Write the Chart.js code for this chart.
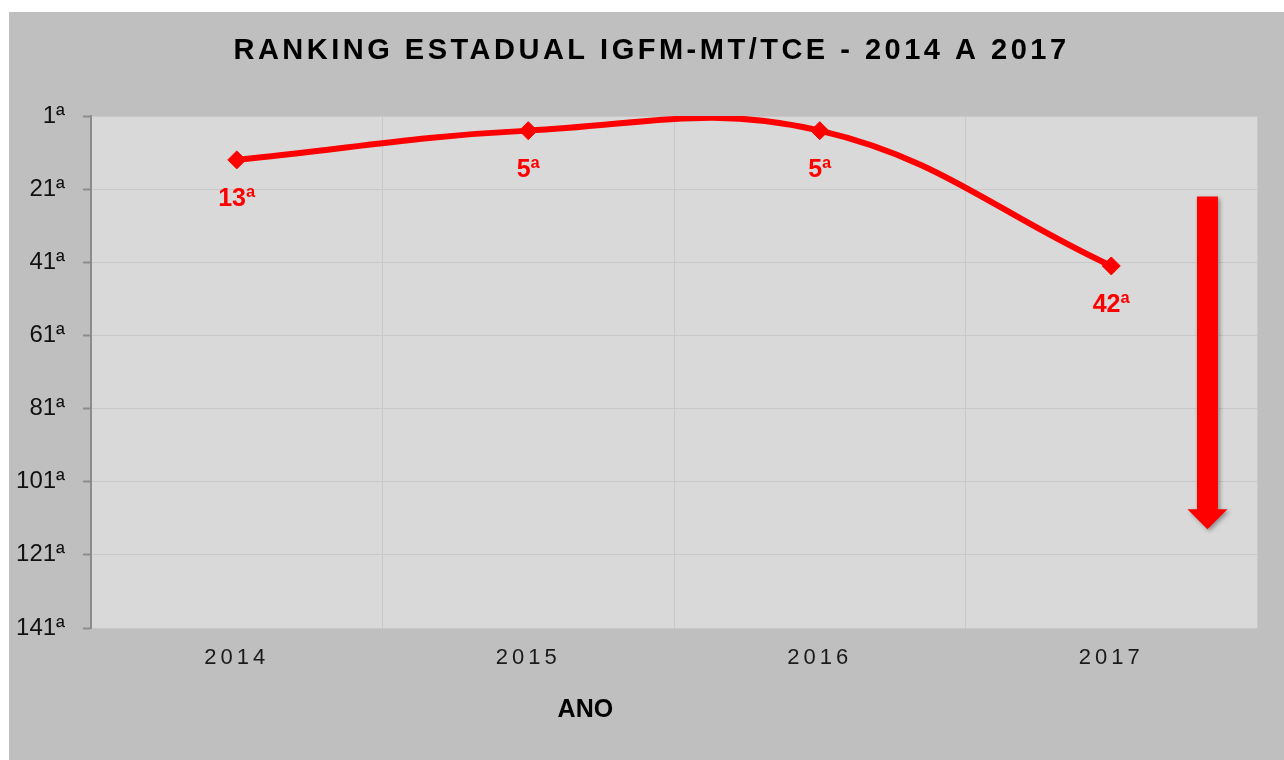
<!DOCTYPE html>
<html>
<head>
<meta charset="utf-8">
<script src="https://cdn.jsdelivr.net/npm/chart.js@4.4.1/dist/chart.umd.min.js"></script>
<style>
  html, body { margin: 0; padding: 0; background: #fff; }
  #box { position: absolute; left: 9px; top: 12px; width: 1275px; height: 748px; background: #bfbfbf; }
</style>
</head>
<body>
<div id="box"><canvas id="rankChart" width="1275" height="748"></canvas></div>
<script>
const years = ['2014', '2015', '2016', '2017'];
const positions = [13, 5, 5, 42];
const rankTicks = [1, 21, 41, 61, 81, 101, 121, 141];
const chartTitle = 'RANKING ESTADUAL IGFM-MT/TCE - 2014 A 2017';
const xTitle = 'ANO';

// red "falling" arrow on the right, in axis units
const arrowAt = 3.33;
const arrowFrom = 23;
const arrowTo = 114;

const FONT = "'Liberation Sans', Arial, sans-serif";

const decor = {
    id: 'decor',
    beforeDraw(chart) {
        const { ctx, chartArea: a } = chart;
        ctx.save();
        ctx.fillStyle = '#d9d9d9';
        ctx.fillRect(a.left, a.top, a.right - a.left, a.bottom - a.top);
        ctx.restore();
        ctx.letterSpacing = '4px'; // spaced-out year labels
    },
    afterDatasetsDraw(chart) {
        const ctx = chart.ctx;
        ctx.letterSpacing = '0px';
        const pts = chart.getDatasetMeta(0).data;
        ctx.save();
        ctx.font = 'bold 25px ' + FONT;
        ctx.fillStyle = '#ff0000';
        ctx.textAlign = 'center';
        pts.forEach((p, i) => ctx.fillText(positions[i] + 'ª', p.x, p.y + 46));
        ctx.restore();
    },
    afterDraw(chart) {
        const { ctx, scales: { x, y } } = chart;
        ctx.save();
        ctx.fillStyle = '#000';
        ctx.textAlign = 'center';
        ctx.font = 'bold 29px ' + FONT;
        ctx.letterSpacing = '3.5px';
        ctx.fillText(chartTitle, chart.width / 2 + 5, 47);
        ctx.letterSpacing = '0px';
        ctx.font = 'bold 25px ' + FONT;
        ctx.fillText(xTitle, x.left + x.width * 0.424, chart.height - 43);

        const cx = x.getPixelForValue(arrowAt);
        const top = y.getPixelForValue(arrowFrom);
        const tip = y.getPixelForValue(arrowTo);
        ctx.shadowColor = 'rgba(0,0,0,0.35)';
        ctx.shadowBlur = 4;
        ctx.shadowOffsetX = 2;
        ctx.shadowOffsetY = 2;
        ctx.fillStyle = '#ff0000';
        ctx.beginPath();
        ctx.moveTo(cx - 10.5, top);
        ctx.lineTo(cx + 10.5, top);
        ctx.lineTo(cx + 10.5, tip - 20);
        ctx.lineTo(cx + 20, tip - 20);
        ctx.lineTo(cx, tip);
        ctx.lineTo(cx - 20, tip - 20);
        ctx.lineTo(cx - 10.5, tip - 20);
        ctx.closePath();
        ctx.fill();
        ctx.restore();
    }
};

const ctx = document.getElementById('rankChart').getContext('2d');
const chart = new Chart(ctx, {
    type: 'line',
    data: {
        labels: years,
        datasets: [{
            data: positions,
            borderColor: '#ff0000',
            backgroundColor: '#ff0000',
            borderWidth: 6,
            tension: 0.4,
            capBezierPoints: false,
            pointStyle: 'rectRot',
            pointRadius: 9,
            pointBorderWidth: 1,
            fill: false
        }]
    },
    options: {
        responsive: false,
        animation: false,
        devicePixelRatio: 1,
        layout: { padding: { top: 104, right: 27, left: 0, bottom: 0 } },
        plugins: {
            legend: { display: false },
            tooltip: { enabled: false },
            title: { display: false }
        },
        scales: {
            x: {
                offset: true,
                grid: { offset: true, color: '#c8c8c8', drawTicks: false },
                border: { display: false },
                ticks: {
                    color: '#1a1a1a',
                    font: { family: FONT, size: 22 },
                    padding: 17,
                    maxRotation: 0
                },
                afterFit(s) { s.height = 132; }
            },
            y: {
                reverse: true,
                min: 1,
                max: 141,
                afterBuildTicks(s) { s.ticks = rankTicks.map(v => ({ value: v })); },
                grid: { color: '#c8c8c8', tickColor: '#8c8c8c', tickLength: 8, tickWidth: 2 },
                border: { color: '#8c8c8c', width: 2 },
                ticks: {
                    z: 1,
                    padding: 18,
                    color: '#111',
                    font: { family: FONT, size: 24 },
                    callback: v => v + 'ª'
                },
                afterFit(s) { s.width = 82; }
            }
        }
    },
    plugins: [decor]
});
</script>
</body>
</html>
